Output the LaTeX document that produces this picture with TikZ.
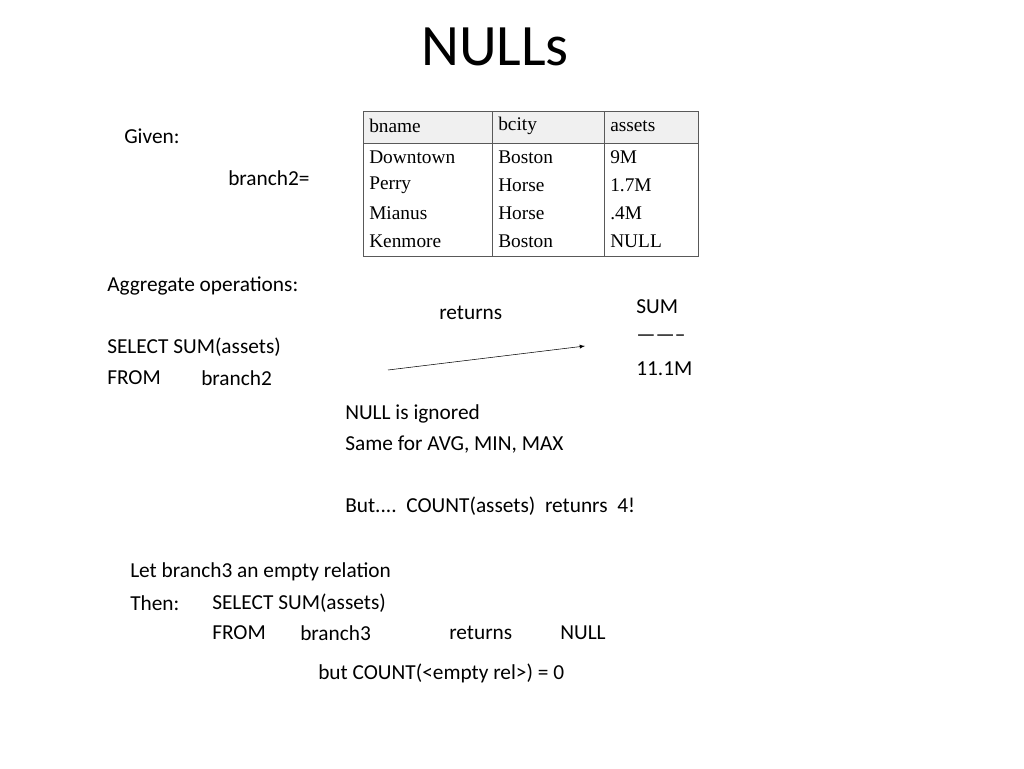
\documentclass[tikz,border=0pt]{standalone}
\usepackage{fontspec}
\setmainfont{Carlito}
\newfontfamily\tabfont{Liberation Serif}
\begin{document}
\begin{tikzpicture}[x=0.75pt,y=-0.75pt,
    txt/.style={anchor=west, inner sep=0pt, font=\fontsize{16}{18}\selectfont},
    cell/.style={anchor=west, inner sep=0pt, font=\tabfont\fontsize{14.5}{16}\selectfont}]
\useasboundingbox[fill=white] (0,0) rectangle (1024,768);
\node[font=\fontsize{44}{48}\selectfont, inner sep=0pt] (title) at (495,47) {NULLs};
% table
\fill[gray!12] (363,111) rectangle (698,143);
\draw[gray!70!black] (363,111) rectangle (698,256);
\draw[gray!70!black] (363,143) -- (698,143);
\draw[gray!70!black] (492,111) -- (492,256);
\draw[gray!70!black] (604,111) -- (604,256);
\node[cell] (h1) at (369,126) {bname};
\node[cell] (h2) at (498,126) {bcity};
\node[cell] (h3) at (610,126) {assets};
\foreach \y/\a/\b/\c in {157/Downtown/Boston/9M, 185/Perry/Horse/1.7M,
    213/Mianus/Horse/.4M, 241/Kenmore/Boston/NULL}{
  \node[cell] at (369,\y) {\a};
  \node[cell] at (498,\y) {\b};
  \node[cell] at (610,\y) {\c};
}
\node[txt] (given) at (124,136) {Given:};
\node[txt] (br2) at (228,178) {branch2=};
\node[txt] (agg) at (107,286) {Aggregate operations:};
\node[txt] (ret1) at (439,313) {returns};
\node[txt] (sum) at (636,307) {SUM};
\node[txt] (dash) at (636,338) {--------};
\node[txt] (val) at (636,369) {11.1M};
\node[txt] (sel) at (107,347) {SELECT SUM(assets)};
\node[txt] (from) at (107,378) {FROM};
\node[txt] (fromb) at (201,378) {branch2};
\coordinate (a1) at (388,370);
\coordinate (a2) at (585,346);
\draw[-latex] (a1) -- (a2);
\node[txt] (ign) at (345,414) {NULL is ignored};
\node[txt] (same) at (345,445) {Same for AVG, MIN, MAX};
\node[txt] (but) at (345,506) {But....\ \ COUNT(assets)\ \ retunrs\ \ 4!};
\node[txt] (let) at (130,572) {Let branch3 an empty relation};
\node[txt] (then) at (130,603) {Then:};
\node[txt] (sel2) at (212,603) {SELECT SUM(assets)};
\node[txt] (from2) at (212,633) {FROM};
\node[txt] (br3) at (300,633) {branch3};
\node[txt] (ret2) at (449,633) {returns};
\node[txt] (null) at (560,633) {NULL};
\node[txt] (cnt) at (318,673) {but COUNT(<empty rel>) = 0};
\end{tikzpicture}
\end{document}
